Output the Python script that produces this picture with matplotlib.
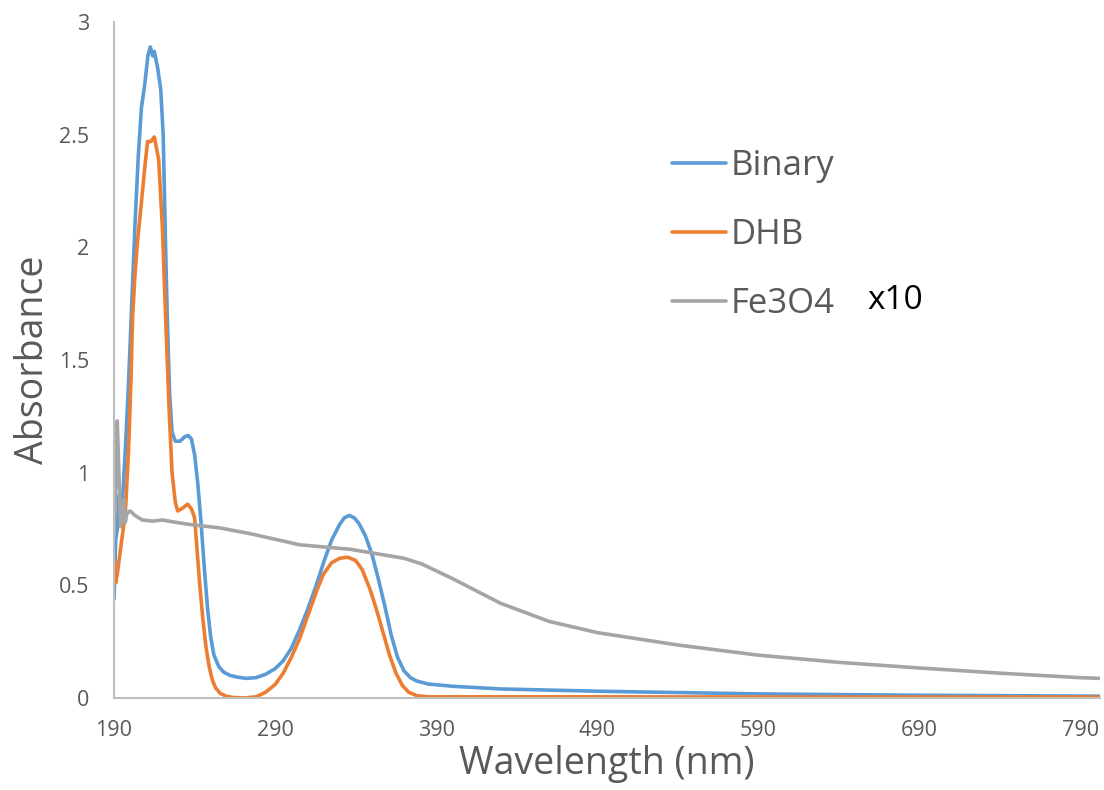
import numpy as np
import matplotlib.pyplot as plt

plt.rcParams['font.family'] = ['Open Sans', 'DejaVu Sans']

# Binary spectrum
wl_binary = [190, 191, 192, 193, 194, 195, 197, 199, 201, 203, 205, 207, 209, 211, 212.5, 214, 215,
             217, 219, 220.5, 222, 223, 224.5, 226, 228, 231, 234, 236, 238, 240, 242, 244, 246,
             248, 250, 252, 255, 258, 262, 267, 272, 278, 284, 290, 295, 300, 305, 310, 315, 320,
             325, 330, 333, 336, 339, 342, 346, 350, 354, 358, 362, 366, 370, 374, 378, 385, 400,
             430, 490, 590, 690, 802]
abs_binary = [0.44, 0.70, 0.75, 0.90, 0.78, 0.85, 1.10, 1.40, 1.75, 2.10, 2.40, 2.62, 2.72, 2.85, 2.89, 2.85, 2.87,
              2.80, 2.70, 2.50, 2.00, 1.70, 1.35, 1.18, 1.14, 1.14, 1.16, 1.165, 1.15, 1.08, 0.95, 0.78, 0.58,
              0.40, 0.27, 0.19, 0.14, 0.115, 0.10, 0.092, 0.087, 0.09, 0.105, 0.13, 0.165, 0.22, 0.30, 0.39, 0.49, 0.60,
              0.70, 0.77, 0.80, 0.81, 0.80, 0.775, 0.72, 0.64, 0.53, 0.41, 0.28, 0.18, 0.12, 0.09, 0.075, 0.062, 0.052,
              0.040, 0.030, 0.018, 0.012, 0.008]

# DHB spectrum
wl_dhb = [190, 191, 192, 194, 197, 199, 200.5, 201.5, 203, 204.6, 207, 209, 210.8, 212.9, 215, 217.7,
          220, 222, 224.3, 226, 228, 229.5, 232, 235.7, 238, 240, 243, 245, 247, 249, 251, 253, 256, 259.6,
          264, 271, 278, 284, 290, 295, 300, 305, 310, 316, 320, 325, 330, 335, 340, 344, 349, 353, 357,
          361, 365, 369, 373, 378, 385, 420, 500, 600, 700, 802]
abs_dhb = [0.61, 0.51, 0.55, 0.66, 0.82, 1.10, 1.41, 1.69, 1.88, 2.03, 2.20, 2.35, 2.47, 2.47, 2.49, 2.39,
           2.09, 1.69, 1.26, 1.00, 0.87, 0.83, 0.84, 0.86, 0.84, 0.80, 0.52, 0.36, 0.23, 0.14, 0.08, 0.045, 0.02, 0.008,
           0.002, 0.0, 0.005, 0.025, 0.06, 0.11, 0.18, 0.26, 0.36, 0.48, 0.55, 0.60, 0.62, 0.625, 0.61, 0.57, 0.48, 0.39, 0.29,
           0.19, 0.11, 0.055, 0.025, 0.01, 0.005, 0.005, 0.005, 0.004, 0.004, 0.004]

# Fe3O4 spectrum (x10)
wl_fe = [190, 191, 192, 193, 194, 195, 196, 197, 198, 200, 203, 207.6, 214, 220, 228, 237, 255.5, 274,
         299, 305, 336.6, 370, 381, 400, 430, 460, 490, 540, 590, 640, 690, 740, 790, 802]
abs_fe = [0.72, 0.95, 1.23, 1.00, 0.76, 0.80, 0.88, 0.78, 0.82, 0.83, 0.81, 0.79, 0.785, 0.79, 0.78, 0.77, 0.755, 0.73,
          0.69, 0.68, 0.66, 0.62, 0.595, 0.53, 0.42, 0.34, 0.29, 0.235, 0.19, 0.158, 0.133, 0.11, 0.09, 0.087]

fig = plt.figure(figsize=(11.04, 7.9), dpi=100)
ax = fig.add_axes([0.1033, 0.1165, 0.8931, 0.8555])

ax.plot(wl_binary, abs_binary, color="#5B9BD5", lw=2.6, label="Binary", solid_capstyle="round")
ax.plot(wl_dhb, abs_dhb, color="#ED7D31", lw=2.6, label="DHB", solid_capstyle="round")
ax.plot(wl_fe, abs_fe, color="#A5A5A5", lw=2.6, label="Fe3O4", solid_capstyle="round")

ax.set_xlim(190, 802)
ax.set_ylim(0, 3)
ax.set_xticks([190, 290, 390, 490, 590, 690, 790])
ax.set_yticks([0, 0.5, 1, 1.5, 2, 2.5, 3])
ax.set_yticklabels(["0", "0.5", "1", "1.5", "2", "2.5", "3"])
ax.tick_params(length=0, labelsize=15.5, labelcolor="#595959")
ax.tick_params(axis="x", pad=16)
ax.tick_params(axis="y", pad=18)

for s in ["top", "right"]:
    ax.spines[s].set_visible(False)
for s in ["left", "bottom"]:
    ax.spines[s].set_color("#BFBFBF")
    ax.spines[s].set_linewidth(1.5)

ax.set_xlabel("Wavelength (nm)", fontsize=27, color="#595959", labelpad=3)
ax.set_ylabel("Absorbance", fontsize=27, color="#595959", labelpad=5)

leg = ax.legend(loc="upper left", bbox_to_anchor=(0.6087, 0.811), bbox_transform=fig.transFigure,
                frameon=False, fontsize=25, borderpad=0, borderaxespad=0,
                handlelength=1.55, handletextpad=0.15, labelspacing=1.0)
for t in leg.get_texts():
    t.set_color("#595959")

fig.text(0.786, 0.62, "x10", fontsize=24, color="black", va="center")

fig.savefig("out.png", dpi=100)
